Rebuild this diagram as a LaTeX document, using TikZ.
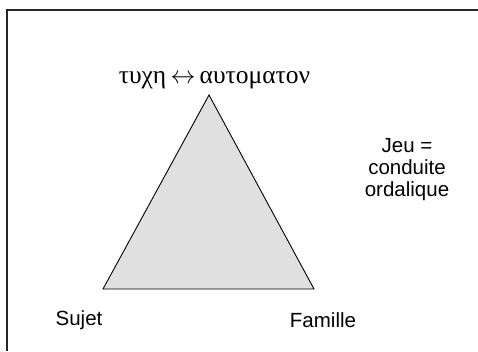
\documentclass[tikz,border=0pt]{standalone}
\usepackage{fontspec}
\setmainfont{Liberation Serif}
\newfontfamily\labelfont{Liberation Sans}
\begin{document}
\begin{tikzpicture}[x=1pt,y=-1pt,
  corner/.style={font=\labelfont\fontsize{20.5}{22}\selectfont},
  greek/.style={font=\fontsize{25.5}{28}\selectfont,anchor=base},
  frame/.style={line width=1.5pt,black!85},
  tri/.style={draw=black,line width=0.9pt,fill=black!12,line join=miter}]
  \useasboundingbox (0,0) rectangle (478,351);
  % open frame along the top and left edges
  \draw[frame] (7,351) -- (7,10) -- (478,10);
  % vertices of the triangle
  \coordinate (top) at (209,95);
  \coordinate (left) at (103,289);
  \coordinate (right) at (314,289);
  \draw[tri] (top) -- (left) -- (right) -- cycle;
  % labels
  \node[greek] (hasard) at (214.5,83) {τυχη\,$\leftrightarrow$\,αυτοματον};
  \node[corner] (sujet) at (79,320) {Sujet};
  \node[corner] (famille) at (323,320) {Famille};
  \node[corner,align=center] (jeu) at (407,170) {Jeu =\\conduite\\ordalique};
\end{tikzpicture}
\end{document}
